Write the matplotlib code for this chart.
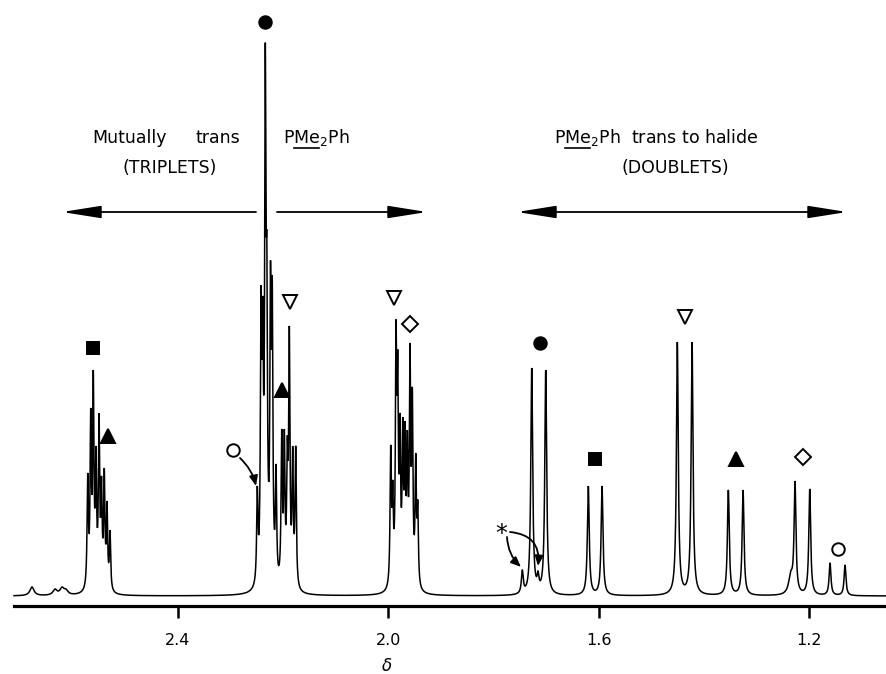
import numpy as np
import matplotlib.pyplot as plt
from matplotlib.patches import FancyArrowPatch
from matplotlib.lines import Line2D

plt.rcParams["font.family"] = ["DejaVu Sans"]

# Figure size in pixels (dpi 100)
W, H = 887, 674

# Peak lists: position (delta, ppm) and height above baseline
# Mutually trans PMe2Ph triplets, left group (square + triangle)
group1_ppm = [2.5717, 2.5660, 2.5611, 2.5560, 2.5502, 2.5455, 2.5402, 2.5350, 2.5293]
group1_height = [123, 188, 226, 150, 183, 120, 128, 95, 66]

# Big group (filled circle, open circle shoulder, triangle, down triangle)
group2_ppm = [2.2492, 2.2421, 2.2389, 2.2340, 2.2311, 2.2241, 2.2208, 2.2136,
              2.2028, 2.1978, 2.1921, 2.1883, 2.1819, 2.1762]
group2_height = [110, 310, 300, 553, 360, 335, 320, 132, 167, 167, 160, 270, 150, 150]

# Third triplet group (down triangle + diamond)
group3_ppm = [1.9955, 1.9917, 1.9854, 1.9822, 1.9778, 1.9726, 1.9683, 1.9639,
              1.9588, 1.9544, 1.9479, 1.9441]
group3_height = [151, 116, 276, 246, 183, 179, 175, 166, 253, 209, 143, 96]

# PMe2Ph trans to halide doublets
doublet_ppm = [1.7452, 1.7153, 1.7273, 1.7007, 1.6197, 1.5936, 1.4504, 1.4224,
               1.3534, 1.3254, 1.2266, 1.1986, 1.1600, 1.1315]
doublet_height = [26, 25, 228, 226, 110, 110, 254, 254, 106, 106, 115, 107, 33, 31]

# Small broad features (baseline bumps, diamond shoulder)
broad_ppm = [2.6777, 2.6339, 2.6206, 2.6130, 1.2347]
broad_height = [9, 7, 9, 7, 25]

# Tick values
x_ticks = [2.4, 2.0, 1.6, 1.2]

# Peak labels: symbol, delta, height above baseline, filled
labels = [
    ("o", 2.2336, 574, True),
    ("s", 2.5617, 248, True),
    ("^", 2.5331, 160, True),
    ("o", 2.2954, 146, False),
    ("^", 2.2022, 206, True),
    ("v", 2.1870, 294, False),
    ("v", 1.9898, 298, False),
    ("D", 1.9597, 272, False),
    ("o", 1.7125, 253, True),
    ("s", 1.6069, 137, True),
    ("v", 1.4358, 279, False),
    ("^", 1.3388, 137, True),
    ("D", 1.2115, 139, False),
    ("o", 1.1457, 47, False),
]

# Pixel <-> delta scale (2.4 at x=178, 1.2 at x=809)
px_per_ppm = (809 - 178) / 1.2
def ppm_at(xpx):
    return 2.4 - (xpx - 178) / px_per_ppm

# Line widths (half width at half maximum, ppm)
w_trip = 0.75 / px_per_ppm
w_doub = 1.1 / px_per_ppm
w_broad = 2.5 / px_per_ppm

pos = np.array(group1_ppm + group2_ppm + group3_ppm + doublet_ppm + broad_ppm)
hgt = np.array(group1_height + group2_height + group3_height + doublet_height + broad_height, float)
wid = np.array([w_trip] * (len(group1_ppm) + len(group2_ppm) + len(group3_ppm))
               + [w_doub] * len(doublet_ppm) + [w_broad] * len(broad_ppm))

# Lorentzian amplitudes so that summed peaks reach the read heights
A = 1.0 / (1.0 + ((pos[:, None] - pos[None, :]) / wid[None, :]) ** 2)
amp = np.clip(np.linalg.solve(A, hgt), 0, None)

x = np.linspace(ppm_at(14), ppm_at(887), 40000)
y = np.zeros_like(x)
for p, a, w in zip(pos, amp, wid):
    y += a / (1.0 + ((x - p) / w) ** 2)

# Figure
fig = plt.figure(figsize=(W / 100, H / 100), dpi=100)
ax = fig.add_axes([0, 0, 1, 1])
ax.patch.set_visible(False)
baseline_px = 596
ax.set_xlim(ppm_at(0), ppm_at(W))
ax.set_ylim(baseline_px - H, baseline_px)

ax.plot(x, y, color="black", lw=1.1, solid_joinstyle="miter")

# Peak markers
for m, p, h, filled in labels:
    ax.plot(p, h, marker=m, ms=10 if m in "v^" else 9 if m != "D" else 8.5,
            markerfacecolor="black" if filled else "white",
            markeredgecolor="black", markeredgewidth=1.4, ls="none")
ax.text(ppm_at(501.5), 596 - 534, "*", fontsize=17, ha="center", va="center")

# Axis
for side in ["top", "left", "right"]:
    ax.spines[side].set_visible(False)
ax.spines["bottom"].set_position(("data", -10))
ax.spines["bottom"].set_bounds(ppm_at(14), ppm_at(W))
ax.spines["bottom"].set_linewidth(2.3)
ax.set_yticks([])
ax.set_xticks(x_ticks)
ax.set_xticklabels([f"{t:.1f}" for t in x_ticks])
ax.tick_params(axis="x", direction="out", length=8.5, width=1.8, pad=11, labelsize=11.5)


def fx(xp):
    return xp / W


def fy(yp):
    return 1 - yp / H


def arrow(p0, p1, style, rad=0.0, scale=14):
    fig.add_artist(FancyArrowPatch((fx(p0[0]), fy(p0[1])), (fx(p1[0]), fy(p1[1])),
                                   transform=fig.transFigure, arrowstyle=style,
                                   connectionstyle=f"arc3,rad={rad}",
                                   mutation_scale=scale, color="black", lw=1.3,
                                   shrinkA=0, shrinkB=0))


font = dict(fontsize=12.5, va="center", ha="left")


def underlined(xp, yp, text):
    t = fig.text(fx(xp), fy(yp), text, **font)
    r = fig.canvas.get_renderer()
    def width(s):
        tmp = fig.text(0, 0, s, **font)
        wd = tmp.get_window_extent(r).width
        tmp.remove()
        return wd
    a, b = width("P"), width("PMe")
    fig.add_artist(Line2D([fx(xp + a + 1), fx(xp + b)], [fy(yp + 10)] * 2,
                          transform=fig.transFigure, color="black", lw=1.2))
    return t


# Region labels
fig.text(fx(92), fy(138), "Mutually", **font)
fig.text(fx(196), fy(138), "trans", **font)
fig.text(fx(170), fy(168), "(TRIPLETS)", fontsize=12.5, va="center", ha="center")
underlined(283, 138, "PMe$_2$Ph")
underlined(554, 138, "PMe$_2$Ph  trans to halide")
fig.text(fx(675), fy(168), "(DOUBLETS)", fontsize=12.5, va="center", ha="center")

head = "-|>,head_length=1.7,head_width=0.27"
arrow((256, 212), (62, 212), head)
arrow((277, 212), (427, 212), head)
arrow((517, 212), (847, 212), "<|-|>,head_length=1.7,head_width=0.27")

# Pointer arrows
small = "-|>,head_length=0.6,head_width=0.25"
arrow((240, 458), (256, 486), small, rad=-0.15, scale=10)
arrow((507, 537), (521, 567), small, rad=0.2, scale=10)
arrow((510, 532), (538, 566), small, rad=-0.5, scale=10)

fig.text(fx(387), fy(666), r"$\delta$", fontsize=12, ha="center", va="center")

fig.savefig("out.png", dpi=100)
